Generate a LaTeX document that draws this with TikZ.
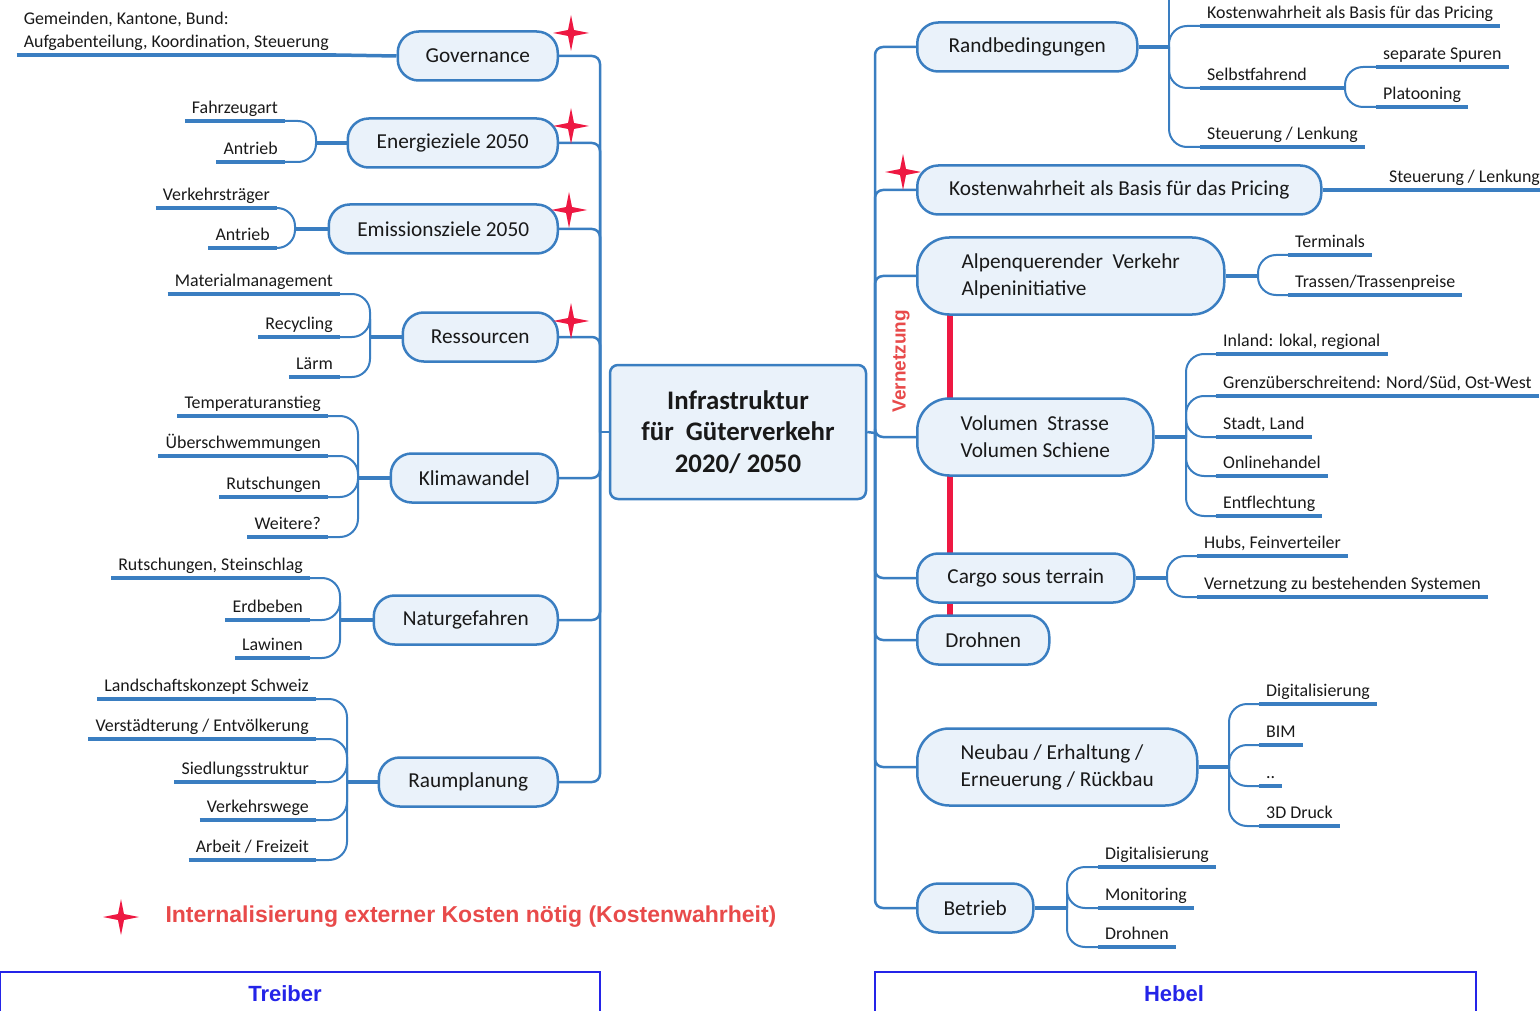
\documentclass[tikz,border=0pt]{standalone}
\usepackage{fontspec}
\setmainfont{Carlito}
\newfontfamily\arialfont{Liberation Sans}
\definecolor{mmblue}{RGB}{58,126,193}
\definecolor{mmfill}{RGB}{234,242,250}
\definecolor{mmred}{RGB}{238,24,66}
\definecolor{notered}{RGB}{232,74,74}
\definecolor{laneblue}{RGB}{36,36,232}
\definecolor{ink}{RGB}{25,25,25}
\begin{document}
\begin{tikzpicture}[x=1pt,y=-1pt,text=ink]
\tikzstyle{topic}=[draw=mmblue, line width=2.5pt, fill=mmfill, rounded corners=21pt, minimum height=49pt, inner xsep=12pt, font=\fontsize{21.3}{27}\selectfont]
\tikzstyle{topic2}=[topic, rounded corners=32pt, minimum height=77pt, align=left]
\tikzstyle{core}=[draw=mmblue, line width=2.5pt, fill=mmfill, rounded corners=8pt, minimum width=256pt, minimum height=134pt, align=center, font=\bfseries\fontsize{26.8}{31.5}\selectfont]
\tikzstyle{uline}=[draw=mmblue, line width=3.5pt]
\tikzstyle{leaf}=[font=\fontsize{17.9}{23}\selectfont, inner xsep=7pt, inner ysep=3pt, text depth=4pt, append after command={(\tikzlastnode.south west) edge[uline] (\tikzlastnode.south east)}]
\tikzstyle{leafl}=[leaf, anchor=south east]
\tikzstyle{leafr}=[leaf, anchor=south west]
\tikzstyle{stem}=[draw=mmblue, line width=2.5pt, rounded corners=8pt]
\tikzstyle{branch}=[draw=mmblue, line width=3.5pt]
\tikzstyle{twig}=[draw=mmblue, line width=2pt, rounded corners=18pt]
\tikzstyle{kstar}=[fill=mmred]
\tikzstyle{lane}=[draw=laneblue, line width=2pt]
\tikzstyle{lanetext}=[text=laneblue, font=\arialfont\bfseries\fontsize{22}{26}\selectfont]
\useasboundingbox (0,0) rectangle (1540,1011);

% Vernetzung (behind the nodes)
\coordinate (vtop) at (950,312);
\coordinate (vbot) at (950,618);
\draw[mmred, line width=6pt] (vtop) -- (vbot);
\node[rotate=90, text=notered, font=\arialfont\bfseries\fontsize{19}{22}\selectfont] (vern) at (901,361) {Vernetzung};

% centre
\node[core] (core) at (738,432) {Infrastruktur\\für\ \ Güterverkehr\\2020/ 2050};
\coordinate (lt) at (600,432);
\coordinate (rt) at (875,433);

% Treiber
\node[topic, anchor=east, minimum width=160pt] (gov) at (559,56) {Governance};
\node[topic, anchor=east, minimum width=210pt] (ener) at (559,143) {Energieziele 2050};
\node[topic, anchor=east, minimum width=229pt] (emis) at (559,229) {Emissionsziele 2050};
\node[topic, anchor=east, minimum width=155pt] (ress) at (559,337) {Ressourcen};
\node[topic, anchor=east, minimum width=167pt] (klima) at (559,478) {Klimawandel};
\node[topic, anchor=east, minimum width=184pt] (natur) at (559,620) {Naturgefahren};
\node[topic, anchor=east, minimum width=179pt] (raum) at (559,782) {Raumplanung};

% Hebel
\node[topic, anchor=west, minimum width=220pt] (rand) at (916,47) {Randbedingungen};
\node[topic, anchor=west, minimum width=404pt] (kost) at (916,190) {Kostenwahrheit als Basis für das Pricing};
\node[topic2, anchor=west, minimum width=307pt] (alpen) at (916,276) {Alpenquerender\ \ Verkehr\\Alpeninitiative};
\node[topic2, anchor=west, minimum width=236pt] (volu) at (916,437) {Volumen\ \ Strasse\\Volumen Schiene};
\node[topic, anchor=west, minimum width=217pt] (cargo) at (916,578) {Cargo sous terrain};
\node[topic, anchor=west, minimum width=132pt] (droh) at (916,640) {Drohnen};
\node[topic2, anchor=west, minimum width=280pt] (neubau) at (916,767) {Neubau / Erhaltung /\\Erneuerung / Rückbau};
\node[topic, anchor=west, minimum width=116pt] (betr) at (916,908) {Betrieb};

\draw[stem] (core.west) -- (lt);
\draw[stem] (core.east) -- (rt);
\draw[stem] (lt) |- (gov.east);
\draw[stem] (lt) |- (ener.east);
\draw[stem] (lt) |- (emis.east);
\draw[stem] (lt) |- (ress.east);
\draw[stem] (lt) |- (klima.east);
\draw[stem] (lt) |- (natur.east);
\draw[stem] (lt) |- (raum.east);
\draw[stem] (rt) |- (rand.west);
\draw[stem] (rt) |- (kost.west);
\draw[stem] (rt) |- (alpen.west);
\draw[stem] (rt) |- (volu.west);
\draw[stem] (rt) |- (cargo.west);
\draw[stem] (rt) |- (droh.west);
\draw[stem] (rt) |- (neubau.west);
\draw[stem] (rt) |- (betr.west);

% leaves left
\node[leafl, align=left] (gov1) at (336,55) {Gemeinden, Kantone, Bund:\\Aufgabenteilung, Koordination, Steuerung};
\draw[branch] (gov.west) -- (gov1.south east);

\coordinate (enerb) at (316,143);
\node[leafl] (ener1) at (285,121) {Fahrzeugart};
\node[leafl] (ener2) at (285,162) {Antrieb};
\draw[branch] (ener.west) -- (enerb);
\draw[twig] (enerb) |- (ener1.south east);
\draw[twig] (enerb) |- (ener2.south east);

\coordinate (emisb) at (295,229);
\node[leafl] (emis1) at (277,208) {Verkehrsträger};
\node[leafl] (emis2) at (277,248) {Antrieb};
\draw[branch] (emis.west) -- (emisb);
\draw[twig] (emisb) |- (emis1.south east);
\draw[twig] (emisb) |- (emis2.south east);

\coordinate (ressb) at (370,337);
\node[leafl] (ress1) at (340,294) {Materialmanagement};
\node[leafl] (ress2) at (340,337) {Recycling};
\node[leafl] (ress3) at (340,377) {Lärm};
\draw[branch] (ress.west) -- (ressb);
\draw[twig] (ressb) |- (ress1.south east);
\draw[twig] (ressb) |- (ress2.south east);
\draw[twig] (ressb) |- (ress3.south east);

\coordinate (klimab) at (358,478);
\node[leafl] (klima1) at (328,416) {Temperaturanstieg};
\node[leafl] (klima2) at (328,456) {Überschwemmungen};
\node[leafl] (klima3) at (328,497) {Rutschungen};
\node[leafl] (klima4) at (328,537) {Weitere?};
\draw[branch] (klima.west) -- (klimab);
\draw[twig] (klimab) |- (klima1.south east);
\draw[twig] (klimab) |- (klima2.south east);
\draw[twig] (klimab) |- (klima3.south east);
\draw[twig] (klimab) |- (klima4.south east);

\coordinate (naturb) at (340,620);
\node[leafl] (natur1) at (310,578) {Rutschungen, Steinschlag};
\node[leafl] (natur2) at (310,620) {Erdbeben};
\node[leafl] (natur3) at (310,658) {Lawinen};
\draw[branch] (natur.west) -- (naturb);
\draw[twig] (naturb) |- (natur1.south east);
\draw[twig] (naturb) |- (natur2.south east);
\draw[twig] (naturb) |- (natur3.south east);

\coordinate (raumb) at (347,782);
\node[leafl] (raum1) at (316,699) {Landschaftskonzept Schweiz};
\node[leafl] (raum2) at (316,739) {Verstädterung / Entvölkerung};
\node[leafl] (raum3) at (316,782) {Siedlungsstruktur};
\node[leafl] (raum4) at (316,820) {Verkehrswege};
\node[leafl] (raum5) at (316,860) {Arbeit / Freizeit};
\draw[branch] (raum.west) -- (raumb);
\draw[twig] (raumb) |- (raum1.south east);
\draw[twig] (raumb) |- (raum2.south east);
\draw[twig] (raumb) |- (raum3.south east);
\draw[twig] (raumb) |- (raum4.south east);
\draw[twig] (raumb) |- (raum5.south east);

% leaves right
\coordinate (randb) at (1169,47);
\coordinate (randtop) at (1169,-3);
\node[leafr] (rand1) at (1200,26) {Kostenwahrheit als Basis für das Pricing};
\node[leafr] (rand2) at (1200,88) {Selbstfahrend};
\node[leafr] (rand3) at (1200,147) {Steuerung / Lenkung};
\draw[branch] (rand.east) -- (randb);
\draw[twig] (randb) -- (randtop);
\draw[twig] (randb) |- (rand1.south west);
\draw[twig] (randb) |- (rand2.south west);
\draw[twig] (randb) |- (rand3.south west);
\coordinate (selbb) at (1345,88);
\node[leafr] (selb1) at (1376,67) {separate Spuren};
\node[leafr] (selb2) at (1376,107) {Platooning};
\draw[uline] (rand2.south east) -- (selbb);
\draw[twig] (selbb) |- (selb1.south west);
\draw[twig] (selbb) |- (selb2.south west);

\node[leafr] (kost1) at (1382,190) {Steuerung / Lenkung};
\draw[branch] (kost.east) -- (kost1.south west);

\coordinate (alpenb) at (1258,276);
\node[leafr] (alpen1) at (1288,255) {Terminals};
\node[leafr] (alpen2) at (1288,295) {Trassen/Trassenpreise};
\draw[branch] (alpen.east) -- (alpenb);
\draw[twig] (alpenb) |- (alpen1.south west);
\draw[twig] (alpenb) |- (alpen2.south west);

\coordinate (volub) at (1186,437);
\node[leafr] (volu1) at (1216,354) {Inland: lokal, regional};
\node[leafr] (volu2) at (1216,396) {Grenzüberschreitend: Nord/Süd, Ost-West};
\node[leafr] (volu3) at (1216,437) {Stadt, Land};
\node[leafr] (volu4) at (1216,476) {Onlinehandel};
\node[leafr] (volu5) at (1216,516) {Entflechtung};
\draw[branch] (volu.east) -- (volub);
\draw[twig] (volub) |- (volu1.south west);
\draw[twig] (volub) |- (volu2.south west);
\draw[twig] (volub) |- (volu3.south west);
\draw[twig] (volub) |- (volu4.south west);
\draw[twig] (volub) |- (volu5.south west);

\coordinate (cargob) at (1167,578);
\node[leafr] (cargo1) at (1197,556) {Hubs, Feinverteiler};
\node[leafr] (cargo2) at (1197,597) {Vernetzung zu bestehenden Systemen};
\draw[branch] (cargo.east) -- (cargob);
\draw[twig] (cargob) |- (cargo1.south west);
\draw[twig] (cargob) |- (cargo2.south west);

\coordinate (neubaub) at (1229,767);
\node[leafr] (neubau1) at (1259,704) {Digitalisierung};
\node[leafr] (neubau2) at (1259,745) {BIM};
\node[leafr] (neubau3) at (1259,786) {..};
\node[leafr] (neubau4) at (1259,826) {3D Druck};
\draw[branch] (neubau.east) -- (neubaub);
\draw[twig] (neubaub) |- (neubau1.south west);
\draw[twig] (neubaub) |- (neubau2.south west);
\draw[twig] (neubaub) |- (neubau3.south west);
\draw[twig] (neubaub) |- (neubau4.south west);

\coordinate (betrb) at (1067,908);
\node[leafr] (betr1) at (1098,867) {Digitalisierung};
\node[leafr] (betr2) at (1098,908) {Monitoring};
\node[leafr] (betr3) at (1098,947) {Drohnen};
\draw[branch] (betr.east) -- (betrb);
\draw[twig] (betrb) |- (betr1.south west);
\draw[twig] (betrb) |- (betr2.south west);
\draw[twig] (betrb) |- (betr3.south west);

% Kostenwahrheit stars
\fill[kstar, shift={(571,33)}] (0,-18) -- (3,-3) -- (18,0) -- (3,3) -- (0,18) -- (-3,3) -- (-18,0) -- (-3,-3) -- cycle;
\fill[kstar, shift={(571,126)}] (0,-18) -- (3,-3) -- (18,0) -- (3,3) -- (0,18) -- (-3,3) -- (-18,0) -- (-3,-3) -- cycle;
\fill[kstar, shift={(569,210)}] (0,-18) -- (3,-3) -- (18,0) -- (3,3) -- (0,18) -- (-3,3) -- (-18,0) -- (-3,-3) -- cycle;
\fill[kstar, shift={(571,321)}] (0,-18) -- (3,-3) -- (18,0) -- (3,3) -- (0,18) -- (-3,3) -- (-18,0) -- (-3,-3) -- cycle;
\fill[kstar, shift={(903,172)}] (0,-18) -- (3,-3) -- (18,0) -- (3,3) -- (0,18) -- (-3,3) -- (-18,0) -- (-3,-3) -- cycle;
\fill[kstar, shift={(121,917)}] (0,-18) -- (3,-3) -- (18,0) -- (3,3) -- (0,18) -- (-3,3) -- (-18,0) -- (-3,-3) -- cycle;
\node[anchor=west, text=notered, font=\arialfont\bfseries\fontsize{23}{27}\selectfont] (note) at (162,917) {Internalisierung externer Kosten nötig (Kostenwahrheit)};

% lanes
\draw[lane] (0,1040) |- (600,972) -- (600,1040);
\draw[lane] (875,1040) |- (1476,972) -- (1476,1040);
\node[lanetext] (treiber) at (285,994) {Treiber};
\node[lanetext] (hebel) at (1174,994) {Hebel};
\end{tikzpicture}
\end{document}
